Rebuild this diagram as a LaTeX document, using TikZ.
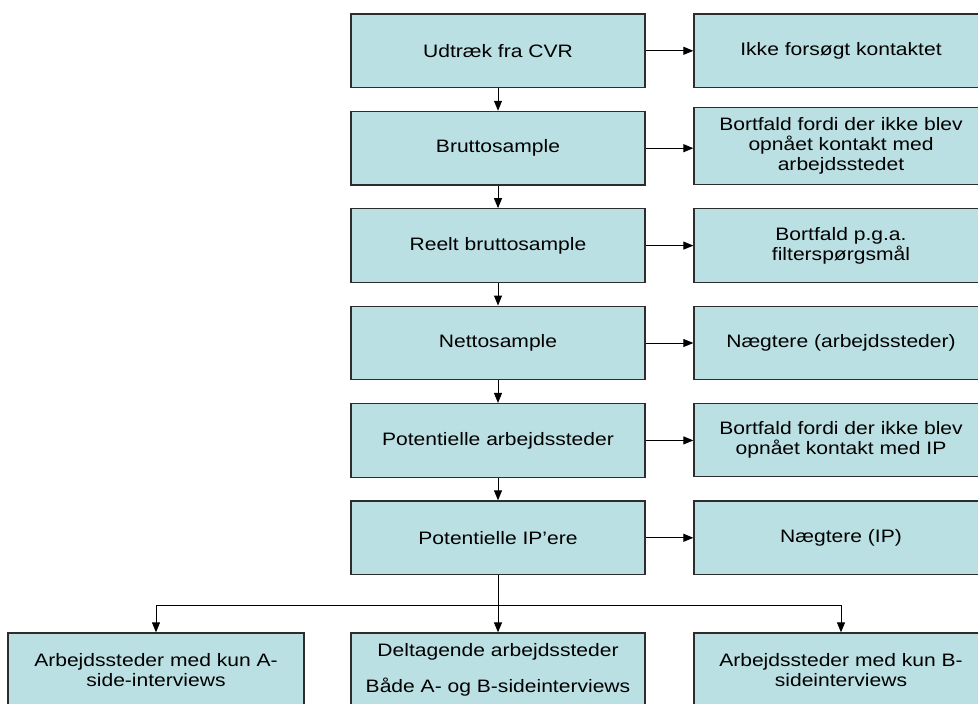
\documentclass[tikz,border=0pt]{standalone}
\usepackage{fontspec}
\setmainfont{Liberation Sans}[FakeStretch=1.17]
\usetikzlibrary{arrows.meta}
\definecolor{boxfill}{RGB}{187,224,227}
\definecolor{boxline}{RGB}{45,45,45}

\begin{document}
\begin{tikzpicture}[x=1pt,y=-1pt,
	box/.style={draw=boxline,line width=1.3pt,fill=boxfill,minimum width=294pt,minimum height=73.6pt,inner sep=0pt,align=center,font=\fontsize{18}{20.3}\selectfont},
	pil/.style={draw=black,line width=1pt,-{Triangle[length=10pt,width=8pt]}}]
	\useasboundingbox (0,0) rectangle (978,704);
	\path (498,50.8) node[box] (v0) {Udtræk fra CVR};
	\path (498,148.2) node[box] (v1) {Bruttosample};
	\path (498,245.6) node[box] (v2) {Reelt bruttosample};
	\path (498,343) node[box] (v3) {Nettosample};
	\path (498,440.4) node[box] (v4) {Potentielle arbejdssteder};
	\path (498,537.8) node[box] (v5) {Potentielle IP’ere};
	\path (841,50.8) node[box] (r0) {Ikke forsøgt kontaktet};
	\path (841,146) node[box,minimum height=77pt] (r1) {Bortfald fordi der ikke blev\\opnået kontakt med\\arbejdsstedet};
	\path (841,245.6) node[box] (r2) {Bortfald p.g.a.\\filterspørgsmål};
	\path (841,343) node[box] (r3) {Nægtere (arbejdssteder)};
	\path (841,440) node[box] (r4) {Bortfald fordi der ikke blev\\opnået kontakt med IP};
	\path (841,537.8) node[box] (r5) {Nægtere (IP)};
	\path (156,669.8) node[box,minimum width=296pt] (b0) {Arbejdssteder med kun A-\\side-interviews};
	\path (498,669.8) node[box] (b1) {Deltagende arbejdssteder\\[15pt]Både A- og B-sideinterviews};
	\path (841,669.8) node[box] (b2) {Arbejdssteder med kun B-\\sideinterviews};
	\coordinate (split) at (498,605);
	% nedad
	\draw[pil] (v0) -- (v1);
	\draw[pil] (v1) -- (v2);
	\draw[pil] (v2) -- (v3);
	\draw[pil] (v3) -- (v4);
	\draw[pil] (v4) -- (v5);
	\draw[pil] (v5) -- (b1);
	\draw[pil] (split) -| (b0.north);
	\draw[pil] (split) -| (b2.north);
	% til siden
	\draw[pil] (v0) -- (r0);
	\draw[pil] (v1.east) -- (v1.east -| r1.west);
	\draw[pil] (v2) -- (r2);
	\draw[pil] (v3) -- (r3);
	\draw[pil] (v4.east) -- (v4.east -| r4.west);
	\draw[pil] (v5) -- (r5);
\end{tikzpicture}
\end{document}
